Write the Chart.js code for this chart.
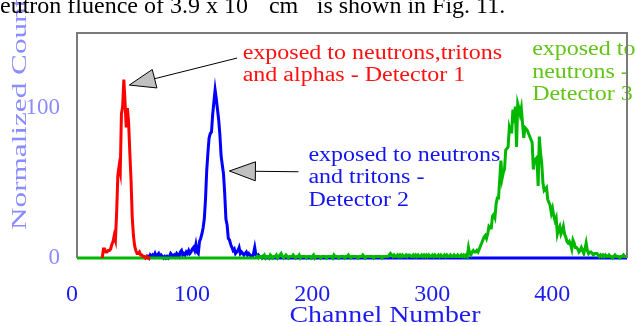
<!DOCTYPE html>
<html>
<head>
<meta charset="utf-8">
<script src="https://cdn.jsdelivr.net/npm/chart.js@4.4.1/dist/chart.umd.min.js"></script>
<style>
  html, body { margin: 0; padding: 0; background: #fff; }
  #wrap { position: relative; width: 635px; height: 326px; overflow: hidden; }
  #spectra { position: absolute; left: 0; top: 0; }
  #caption { position: absolute; left: -12px; top: -7px; font: 24px/24px "Liberation Serif", serif; white-space: nowrap; color: #000; }
  #caption sup { font-size: 15px; line-height: 0; vertical-align: baseline; position: relative; top: -20px; }
</style>
</head>
<body>
<div id="wrap">
  <canvas id="spectra" width="635" height="326"></canvas>
  <div id="caption">neutron fluence of 3.9 x 10<sup>10</sup> cm<sup>-2</sup> is shown in Fig. 11.</div>
</div>
<script>
// Pulse-height spectra, one count per channel starting at the given first channel
const det1FirstChannel = 21;
const det1Counts = [
  0, 6, 6, 4, 4, 5, 5, 6, 9, 11, 15, 12, 30, 55, 61, 57, 96, 101, 119, 104,
  87, 100, 90, 70, 52, 27, 15, 8, 5, 3, 3, 4, 2, 2, 1, 1, 0, 1, 0, 0, 0
];

const det2FirstChannel = 58;
const det2Counts = [
  0, 1, 0, 2, 1, 2, 1, 3, 1, 2, 3, 1, 2, 1, 0, 1, 0, 1, 0, 1,
  3, 2, 1, 2, 1, 3, 2, 1, 4, 5, 2, 3, 2, 4, 3, 5, 3, 4, 6, 7,
  5, 9, 4, 3, 11, 13, 16, 20, 26, 39, 58, 70, 80, 83, 84, 96, 104, 112, 106, 99,
  92, 82, 68, 62, 56, 43, 26, 22, 13, 12, 9, 7, 5, 6, 3, 4, 5, 7, 3, 4,
  3, 2, 3, 4, 2, 3, 2, 1, 1, 3, 7, 2, 1, 2, 1, 1, 0, 1, 0, 0,
  0, 0, 0, 0, 0, 0, 0, 0, 0, 0, 0, 0, 0, 0, 0, 0, 0, 0, 0, 0,
  0, 0, 0, 0, 0, 0, 0, 0, 0, 0, 0, 0, 0, 0, 0, 0, 0, 0, 0, 0,
  0, 0, 0, 0, 0, 0, 0, 0, 0, 0, 0, 0, 0, 0, 0, 0, 0, 0, 0, 0,
  0, 0, 0, 0, 0, 0, 0, 0, 0, 0, 0, 0, 0, 0, 0, 0, 0, 0, 0, 0,
  0, 0, 0, 0, 0, 0, 0, 0, 0, 0, 0, 0, 0, 0, 0, 0, 0, 0, 0, 0,
  0, 0, 0, 0, 0, 0, 0, 0, 0, 0, 0, 0, 0, 0, 0, 0, 0, 0, 0, 0,
  0, 0, 0, 0, 0, 0, 0, 0, 0, 0, 0, 0, 0, 0, 0, 0, 0, 0, 0, 0,
  0, 0, 0, 0, 0, 0, 0, 0, 0, 0, 0, 0, 0, 0, 0, 0, 0, 0, 0, 0,
  0, 0, 0, 0, 0, 0, 0, 0, 0, 0, 0, 0, 0, 0, 0, 0, 0, 0, 0, 0,
  0, 0, 0, 0, 0, 0, 0, 0, 0, 0, 0, 0, 0, 0, 0, 0, 0, 0, 0, 0,
  0, 0, 0, 0, 0, 0, 0, 0, 0, 0, 0, 0, 0, 0, 0, 0, 0, 0, 0, 0,
  0, 0, 0, 0, 0, 0, 0, 0, 0, 0, 0, 0, 0, 0, 0, 0, 0, 0, 0, 0,
  0, 0, 0, 0, 0, 0, 0, 0, 0, 0, 0, 0, 0, 0, 0, 0, 0, 0, 0, 0,
  0, 0, 0, 0, 0, 0, 0, 0, 0, 0, 0, 0, 0, 0, 0, 0, 0, 0, 0, 0,
  0, 0, 0, 0, 0, 0, 0, 0, 0, 0, 0, 0, 0, 0, 0, 0, 0, 0, 0, 0,
  0
];

const det3FirstChannel = 0;
const det3Counts = [
  0, 0, 0, 0, 0, 0, 0, 0, 0, 0, 0, 0, 0, 0, 0, 0, 0, 0, 0, 0,
  0, 0, 0, 0, 0, 0, 0, 0, 0, 0, 0, 0, 0, 0, 0, 0, 0, 0, 0, 0,
  0, 0, 0, 0, 0, 0, 0, 0, 0, 0, 0, 0, 0, 0, 0, 0, 0, 0, 0, 0,
  0, 0, 0, 0, 0, 0, 0, 0, 0, 0, 0, 0, 0, 0, 0, 0, 0, 0, 0, 0,
  0, 0, 0, 0, 0, 0, 0, 0, 0, 0, 0, 0, 0, 0, 0, 0, 0, 0, 0, 0,
  0, 0, 0, 0, 0, 0, 0, 0, 0, 0, 0, 0, 0, 0, 0, 0, 0, 0, 0, 0,
  0, 0, 0, 0, 0, 0, 0, 0, 0, 0, 0, 0, 0, 0, 0, 0, 0, 0, 0, 0,
  0, 0, 0, 0, 0, 0, 0, 0, 0, 0,
  1, 0, 1, 1, 0, 1, 2, 0, 1, 1, 0, 2, 1, 0, 1, 1, 2, 0, 1, 2,
  3, 1, 0, 1, 2, 1, 0, 1, 1, 1, 2, 1, 0, 1, 1, 2, 0, 1, 1, 1,
  1, 0, 1, 1, 1, 0, 1, 2, 0, 1, 1, 1, 1, 0, 1, 1, 1, 1, 0, 1,
  1, 1, 1, 0, 2, 1, 1, 1, 0, 1, 1, 1, 1, 0, 1, 1, 2, 1, 0, 1,
  1, 1, 1, 1, 0, 1, 1, 1, 2, 1, 0, 1, 1, 1, 1, 1, 1, 0, 1, 1,
  1, 1, 1, 1, 0, 1, 1, 1, 1, 1, 2, 3, 2, 1, 2, 1, 1, 2, 1, 2,
  1, 2, 1, 1, 2, 1, 2, 2, 1, 1, 2, 1, 2, 1, 2, 1, 1, 2, 1, 2,
  1, 2, 1, 2, 1, 1, 2, 1, 2, 1, 1, 2, 1, 2, 1, 1, 2, 1, 2, 1,
  1, 2, 1, 1, 2, 1, 1, 2, 1, 1,
  2, 1, 2, 1, 2, 1, 7, 3, 2, 4, 5, 4, 4, 5, 4, 6, 8, 10, 12, 14,
  15, 13, 16, 21, 20, 20, 28, 29, 27, 36, 40, 40, 52, 65, 53, 57, 59, 72, 73, 74,
  87, 84, 84, 99, 90, 101, 74, 103, 100, 96, 100, 90, 80, 87, 86, 85, 83, 81, 79, 77,
  59, 65, 66, 67, 48, 81, 70, 63, 50, 45, 46, 47, 39, 37, 35, 30, 33, 28, 25, 27,
  16, 19, 21, 16, 18, 21, 16, 14, 11, 10, 11, 9, 6, 12, 10, 7, 7, 6, 4, 5,
  7, 5, 3, 6, 10, 5, 3, 4, 4, 3, 2, 3, 3, 3, 2, 1, 2, 1, 2, 1,
  2, 1, 1, 2, 1, 1, 0, 1, 2, 1, 1, 1, 0, 1, 1, 2, 1, 1, 1
];

// Axis setup
const channelMax = 458;
const countMax = 150;
const tickStep = 100;

// Callouts, anchored in channel / count units
const notes = [
  { lines: ['exposed to neutrons,tritons', 'and alphas - Detector 1'], color: '#ff1010', at: [138, 133] },
  { lines: ['exposed to neutrons', 'and tritons -', 'Detector 2'], color: '#1414f0', at: [192.7, 64.7] },
  { lines: ['exposed to', 'neutrons -', 'Detector 3'], color: '#62c418', at: [379, 135.3] }
];
const arrows = [
  { from: [133.3, 133.3], to: [43.6, 115.3] },
  { from: [184.4, 57.5], to: [126.9, 58] }
];

const serif = '"Liberation Serif", "Times New Roman", serif';

const toPoints = (first, counts) => counts.map((c, i) => ({ x: first + i, y: c }));

function drawArrow(ctx, x0, y0, x1, y1) {
  const ang = Math.atan2(y1 - y0, x1 - x0);
  const len = 26, half = 9.5;
  const bx = x1 - len * Math.cos(ang);
  const by = y1 - len * Math.sin(ang);
  ctx.strokeStyle = '#000';
  ctx.lineWidth = 1;
  ctx.beginPath();
  ctx.moveTo(x0, y0);
  ctx.lineTo(bx, by);
  ctx.stroke();
  ctx.beginPath();
  ctx.moveTo(x1, y1);
  ctx.lineTo(bx + half * Math.sin(ang), by - half * Math.cos(ang));
  ctx.lineTo(bx - half * Math.sin(ang), by + half * Math.cos(ang));
  ctx.closePath();
  ctx.fillStyle = '#c0c0c0';
  ctx.fill();
  ctx.stroke();
}

// text widened along its own direction, the way the original labels were set
function wideText(ctx, text, x, y, sx) {
  ctx.save();
  ctx.translate(x, y);
  ctx.scale(sx, 1);
  ctx.fillText(text, 0, 0);
  ctx.restore();
}

const frameColor = '#7a7a7a';

const decorations = {
  id: 'decorations',
  beforeDatasetsDraw(chart) {
    // bottom edge sits under the spectra
    const { ctx, chartArea: a } = chart;
    ctx.save();
    ctx.strokeStyle = frameColor;
    ctx.lineWidth = 2;
    ctx.beginPath();
    ctx.moveTo(a.left, a.bottom);
    ctx.lineTo(a.right, a.bottom);
    ctx.stroke();
    ctx.restore();
  },
  afterDatasetsDraw(chart) {
    const { ctx, chartArea: a, scales: { x, y } } = chart;
    ctx.save();
    arrows.forEach(ar => drawArrow(ctx,
      x.getPixelForValue(ar.from[0]), y.getPixelForValue(ar.from[1]),
      x.getPixelForValue(ar.to[0]), y.getPixelForValue(ar.to[1])));

    ctx.font = '20px ' + serif;
    ctx.textBaseline = 'alphabetic';
    ctx.textAlign = 'left';
    notes.forEach(n => {
      ctx.fillStyle = n.color;
      const px = x.getPixelForValue(n.at[0]);
      const py = y.getPixelForValue(n.at[1]);
      n.lines.forEach((line, i) => wideText(ctx, line, px, py + i * 22.5, 1.2));
    });

    // left, top and right edges go over the callout text
    ctx.strokeStyle = frameColor;
    ctx.lineWidth = 2;
    ctx.beginPath();
    ctx.moveTo(a.left, a.bottom);
    ctx.lineTo(a.left, a.top);
    ctx.lineTo(a.right, a.top);
    ctx.lineTo(a.right, a.bottom);
    ctx.stroke();

    // axis titles
    ctx.font = '24px ' + serif;
    ctx.fillStyle = '#1c1cf0';
    const title = 'Channel Number';
    const tw = ctx.measureText(title).width * 1.16;
    wideText(ctx, title, a.left + 308 - tw / 2, a.bottom + 64, 1.16);

    ctx.translate(a.left - 51, a.bottom - 28);
    ctx.rotate(-Math.PI / 2);
    ctx.font = '20px ' + serif;
    ctx.fillStyle = '#8a8cff';
    wideText(ctx, 'Normalized Counts', 0, 0, 1.56);
    ctx.restore();
  }
};

const lineStyle = { borderWidth: 3, pointRadius: 0, tension: 0, fill: false, clip: 4 };

new Chart(document.getElementById('spectra'), {
  type: 'line',
  data: {
    datasets: [
      { ...lineStyle, label: 'Detector 1', data: toPoints(det1FirstChannel, det1Counts), borderColor: '#ff0000', order: 0 },
      { ...lineStyle, label: 'Detector 3', data: toPoints(det3FirstChannel, det3Counts), borderColor: '#00b800', order: 1 },
      { ...lineStyle, label: 'Detector 2', data: toPoints(det2FirstChannel, det2Counts), borderColor: '#0000ff', order: 2 }
    ]
  },
  options: {
    responsive: false,
    animation: false,
    layout: { padding: { top: 33, right: 8, left: 0, bottom: 0 } },
    plugins: { legend: { display: false }, tooltip: { enabled: false } },
    scales: {
      x: {
        type: 'linear',
        min: 0,
        max: channelMax,
        afterFit: s => { s.height = 68; },
        grid: { display: false, drawTicks: false },
        border: { display: false },
        ticks: { stepSize: tickStep, includeBounds: false, padding: 22, labelOffset: -5, maxRotation: 0, color: '#1c1cf0', font: { family: serif, size: 24 } }
      },
      y: {
        min: 0,
        max: countMax,
        afterFit: s => { s.width = 77; },
        grid: { display: false, drawTicks: false },
        border: { display: false },
        ticks: { stepSize: tickStep, includeBounds: false, padding: 17, color: '#8a8cff', font: { family: serif, size: 23 } }
      }
    }
  },
  plugins: [decorations]
});
</script>
</body>
</html>
